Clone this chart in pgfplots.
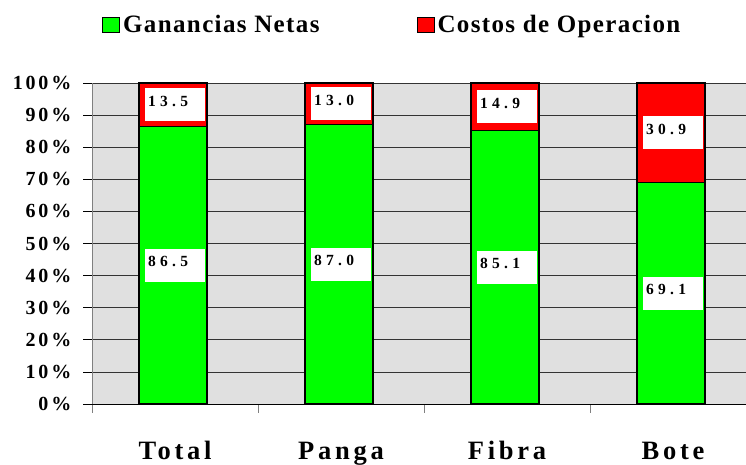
\documentclass[border=0pt]{standalone}
\usepackage{pgfplots}
\pgfplotsset{compat=1.18}
\usepackage{fontspec}
\setmainfont{Liberation Serif}
\newfontfamily\spA{Liberation Serif}[LetterSpace=14]
\newfontfamily\spL{Liberation Serif}[LetterSpace=5.5]
\newfontfamily\spB{Liberation Serif}[LetterSpace=28]
\definecolor{grn}{HTML}{00FF00}
\definecolor{rd}{HTML}{FF0000}
\definecolor{bgc}{HTML}{E0E0E0}

\pgfplotstableread{
x neta costo
0 86.5 13.5
1 87.0 13.0
2 85.1 14.9
3 69.1 30.9
}\datatab

\pgfplotstableread{
x y lab
0 43.25 86.5
0 93.25 13.5
1 43.50 87.0
1 93.50 13.0
2 42.55 85.1
2 92.55 14.9
3 34.55 69.1
3 84.55 30.9
}\labtab

\begin{document}
\begin{tikzpicture}[x=1pt,y=1pt]
\useasboundingbox (0,0) rectangle (746,464);
\pgfplotsset{base/.style={at={(92pt,60pt)}, anchor=south west, scale only axis,
  width=664pt, height=321pt, xmin=-0.5, xmax=3.5, ymin=0, ymax=100}}
\begin{axis}[base, ybar stacked, bar width=68pt, bar shift=-2pt,
  axis background/.style={fill=bgc},
  axis lines=left, axis line style={-},
  x axis line style={black, line width=1pt},
  y axis line style={gray, line width=1pt},
  ymajorgrids, grid style={black!80, line width=0.7pt},
  tick align=outside, major tick length=8.5pt,
  ytick={0,10,...,100},
  yticklabels={0\%,10\%,20\%,30\%,40\%,50\%,60\%,70\%,80\%,90\%,100\%},
  ytick style={black, line width=0.8pt},
  yticklabel style={anchor=east, inner sep=0pt, xshift=-12pt,
    font=\spA\bfseries\fontsize{20}{20}\selectfont},
  xtick={-0.5,0.5,1.5,2.5}, xticklabels={},
  xtick style={gray, line width=0.8pt},
  extra x ticks={0,1,2,3},
  extra x tick labels={Total,Panga,Fibra,Bote},
  extra x tick style={major tick length=0pt, tick style={draw=none},
    xticklabel style={anchor=base, inner sep=0pt, yshift=-55pt,
    font=\spA\bfseries\fontsize{26.5}{26.5}\selectfont}},
  legend columns=2,
  legend style={at={(0.015,1.182)}, anchor=west, draw=none, fill=none,
    inner sep=0pt, font=\spL\bfseries\fontsize{25}{25}\selectfont,
    /tikz/every even column/.append style={column sep=94pt},
    nodes={inner xsep=3pt, inner ysep=0pt}},
]
\addplot[fill=grn, draw=black, line width=1.3pt,
  legend image code/.code={\draw[fill=grn, draw=black, line width=1pt] (0pt,-7.5pt) rectangle (17pt,7.5pt);}]
  table[x=x, y=neta] {\datatab};
\addlegendentry{Ganancias Netas}
\addplot[fill=rd, draw=black, line width=1.3pt,
  legend image code/.code={\draw[fill=rd, draw=black, line width=1pt] (0pt,-7.5pt) rectangle (17pt,7.5pt);}]
  table[x=x, y=costo] {\datatab};
\addlegendentry{Costos de Operacion}
\end{axis}
\begin{axis}[base, hide axis]
\addplot[draw=none, mark=none, nodes near coords, point meta=explicit symbolic,
  every node near coord/.append style={anchor=center, fill=white,
    text width=54pt, align=left, inner xsep=3pt, inner ysep=0pt,
    text height=18pt, text depth=15pt,
    font=\spB\bfseries\fontsize{15.5}{15.5}\selectfont}]
  table[x=x, y=y, meta=lab] {\labtab};
\end{axis}
\end{tikzpicture}
\end{document}
